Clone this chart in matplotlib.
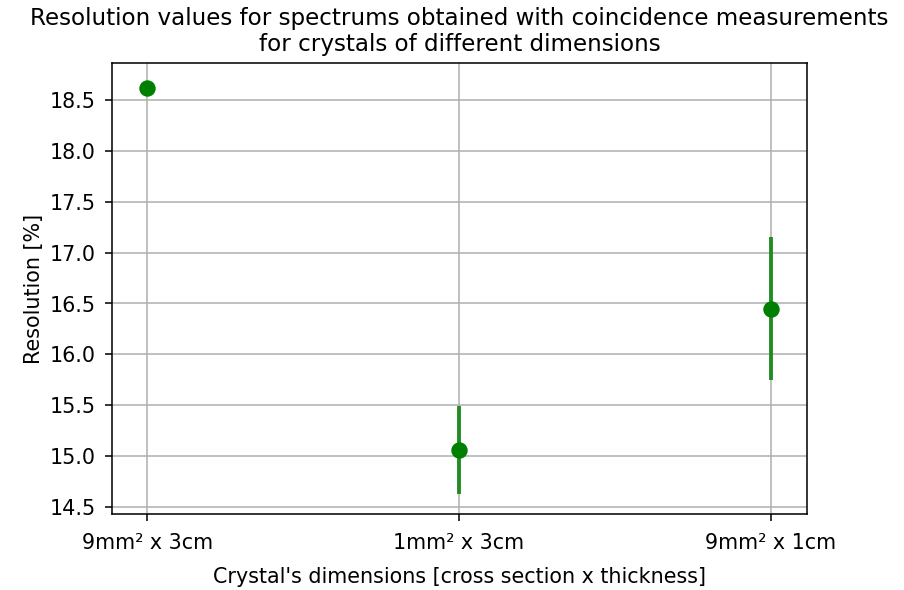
import matplotlib
matplotlib.use("Agg")
import matplotlib.pyplot as plt

crystals = ["9mm² x 3cm", "1mm² x 3cm", "9mm² x 1cm"]
resolution = [18.62, 15.06, 16.45]
resolution_err = [0.05, 0.43, 0.70]

fig = plt.figure(figsize=(6.504, 4.245), dpi=139)
ax = fig.add_axes([0.1239, 0.1288, 0.7688, 0.7644])

pos = list(range(len(crystals)))
ax.errorbar(pos, resolution, yerr=resolution_err, fmt="o", color="green",
            ecolor="forestgreen", markersize=7.5, elinewidth=2)

ax.set_xticks(pos)
ax.set_xticklabels(crystals)
ax.set_xlim(-0.113, 2.117)
ax.set_ylim(14.43, 18.865)
ax.grid(True)
ax.tick_params(axis="x", labelsize=10.7, pad=6.5)
ax.tick_params(axis="y", labelsize=10.7, pad=5)
ax.set_title("Resolution values for spectrums obtained with coincidence measurements\nfor crystals of different dimensions", fontsize=11.9)
ax.set_xlabel("Crystal's dimensions [cross section x thickness]", fontsize=10.7, labelpad=7)
ax.set_ylabel("Resolution [%]", fontsize=10.7, labelpad=3)

fig.savefig("out.png", dpi=139)
